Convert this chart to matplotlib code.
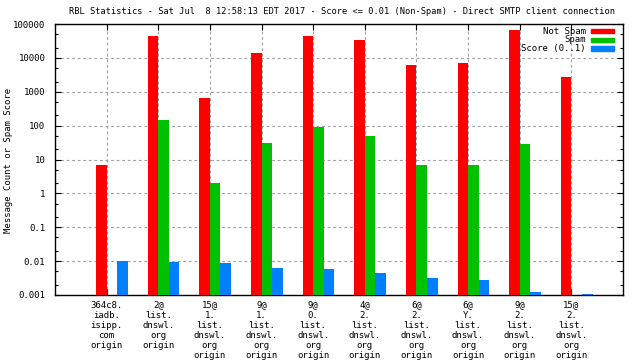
import numpy as np
import matplotlib.pyplot as plt
from matplotlib.ticker import FixedLocator, LogLocator, NullFormatter
from matplotlib.patches import Rectangle

plt.rcParams['font.family'] = 'DejaVu Sans Mono'
plt.rcParams['font.size'] = 6.5

# rbl sources (x tick labels)
sources = [
    "364c8.\niadb.\nisipp.\ncom\norigin",
    "2@\nlist.\ndnswl.\norg\norigin",
    "15@\n1.\nlist.\ndnswl.\norg\norigin",
    "9@\n1.\nlist.\ndnswl.\norg\norigin",
    "9@\n0.\nlist.\ndnswl.\norg\norigin",
    "4@\n2.\nlist.\ndnswl.\norg\norigin",
    "6@\n2.\nlist.\ndnswl.\norg\norigin",
    "6@\nY.\nlist.\ndnswl.\norg\norigin",
    "9@\n2.\nlist.\ndnswl.\norg\norigin",
    "15@\n2.\nlist.\ndnswl.\norg\norigin",
]

not_spam = [7, 45000, 660, 14100, 45000, 34300, 6270, 7000, 67900, 2760]
spam = [0, 150, 2.0, 30, 92, 50, 7, 7, 28, 0]
score = [0.0101, 0.0094, 0.0087, 0.0063, 0.0059, 0.0045, 0.0032, 0.0028, 0.00123, 0.0011]

series = [("Not Spam", not_spam, "#ff0000"),
          ("Spam", spam, "#00c000"),
          ("Score (0..1)", score, "#0080ff")]

fig = plt.figure(figsize=(6.4, 3.6), dpi=100)
# plot box in pixels: left 55, right 623, top 24, bottom 295
ax = fig.add_axes([55 / 640, 1 - 295 / 360, 568 / 640, 271 / 360])

x = np.arange(len(sources))
width = 0.205
offsets = [-0.5 * width, 0.5 * width, 1.5 * width]

for (name, vals, col), off in zip(series, offsets):
    vals = np.array(vals, dtype=float)
    mask = vals > 0
    ax.bar(x[mask] + off, vals[mask], width=width, color=col, linewidth=0, zorder=3)

ax.set_yscale('log')
ax.set_ylim(0.001, 100000)
ax.set_xlim(-1, 10)

yt = [0.001, 0.01, 0.1, 1, 10, 100, 1000, 10000, 100000]
ax.yaxis.set_major_locator(FixedLocator(yt))
ax.set_yticklabels(["0.001", "0.01", "0.1", "1", "10", "100", "1000", "10000", "100000"])
ax.yaxis.set_minor_locator(LogLocator(base=10, subs=(2.0, 5.0)))
ax.yaxis.set_minor_formatter(NullFormatter())

ax.set_xticks(x)
ax.set_xticklabels(sources, linespacing=1.15, va='top')

ax.tick_params(axis='both', which='major', direction='in', length=4, width=0.8,
               top=True, right=True, labelsize=6.5, pad=4)
ax.tick_params(axis='y', which='minor', direction='in', length=2, width=0.8, right=True)
ax.tick_params(axis='y', which='major', pad=7)

ax.grid(True, which='major', color='#a0a0a0', linestyle=(0, (2.5, 2.5)), linewidth=0.8, zorder=0)
for s in ax.spines.values():
    s.set_linewidth(1.0)

fig.text(9 / 640, 1 - 160 / 360, "Message Count or Spam Score", rotation=90,
         ha='center', va='center', fontsize=6.5)

fig.text(342 / 640, 1 - 12 / 360,
         "RBL Statistics - Sat Jul  8 12:58:13 EDT 2017 - Score <= 0.01 (Non-Spam) - Direct SMTP client connection",
         ha='center', va='center', fontsize=6.2)

# legend, drawn like gnuplot's (text right-aligned, sample box after it)
for i, (name, vals, col) in enumerate(series):
    yc = 0.974 - i * 0.033
    ax.text(0.934, yc, name, transform=ax.transAxes, ha='right', va='center', fontsize=6.5, zorder=5)
    ax.add_patch(Rectangle((0.943, yc - 0.009), 0.042, 0.018, transform=ax.transAxes,
                           color=col, zorder=5, clip_on=False))

fig.savefig("out.png", dpi=100)
